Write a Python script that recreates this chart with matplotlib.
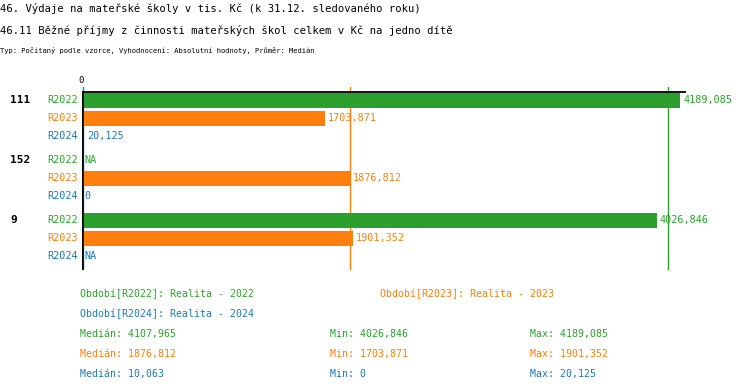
import numpy as np
import matplotlib
matplotlib.use("Agg")
import matplotlib.pyplot as plt

plt.rcParams['font.family'] = ['DejaVu Sans Mono']

groups = ['111', '152', '9']
series = ['R2022', 'R2023', 'R2024']
r2022 = [4189.085, np.nan, 4026.846]
r2023 = [1703.871, 1876.812, 1901.352]
r2024 = [20.125, 0.0, np.nan]
values = [r2022, r2023, r2024]
colors = ['#2ca02c', '#ff7f0e', '#1f77b4']

legend_texts = ['Období[R2022]: Realita - 2022',
                'Období[R2023]: Realita - 2023',
                'Období[R2024]: Realita - 2024']
medians = [4107.965, 1876.812, 10.063]
minimums = [4026.846, 1703.871, 0.0]
maximums = [4189.085, 1901.352, 20.125]

title1 = '46. Výdaje na mateřské školy v tis. Kč (k 31.12. sledovaného roku)'
title2 = '46.11 Běžné příjmy z činnosti mateřských škol celkem v Kč na jedno dítě'
subtitle = 'Typ: Počítaný podle vzorce, Vyhodnocení: Absolutní hodnoty, Průměr: Medián'


def fmt(v):
    return f"{v:.3f}".replace('.', ',').rstrip('0').rstrip(',') if v == 0 else f"{v:.3f}".replace('.', ',')


W, H = 750, 392
fig = plt.figure(figsize=(W / 100, H / 100), dpi=100)


def fx(x):
    return x / W


def fy(y):
    return 1 - y / H


# plot area in pixels
left, right, top, bottom = 81.5, 686, 87, 270
ax = fig.add_axes([fx(left), fy(bottom), fx(right - left), (bottom - top) / H])
ax.set_axis_off()
xmax = np.nanmax(r2022) * 1.01
ax.set_xlim(0, xmax)
ax.set_ylim(bottom - top, 0)

row_h, gap, first = 18, 6, 13
for g, grp in enumerate(groups):
    base = first + g * (3 * row_h + gap)
    ax.annotate(grp, xy=(10, base), xycoords=('figure pixels', 'data'),
                ha='left', va='center', fontsize=8, fontweight='bold')
    for s, name in enumerate(series):
        y = base + s * row_h
        v = values[s][g]
        ax.annotate(name, xy=(0, y), xytext=(-4, 0), textcoords='offset pixels',
                    ha='right', va='center', fontsize=7.3, color=colors[s],
                    annotation_clip=False)
        if np.isnan(v):
            label, xend = 'NA', 0
        else:
            ax.barh(y, v, height=15, color=colors[s], zorder=2)
            label, xend = fmt(v), v
        ax.annotate(label, xy=(xend, y), xytext=(3, 0), textcoords='offset pixels',
                    ha='left', va='center', fontsize=7.3, color=colors[s],
                    annotation_clip=False)

# median lines
for s in range(3):
    ax.plot([medians[s], medians[s]], [0, bottom - top], color=colors[s], lw=1, zorder=1)

# axis lines
ax.plot([0, xmax], [5, 5], color='black', lw=1.3, zorder=4, solid_capstyle='butt')
ax.plot([0, 0], [5, bottom - top], color='black', lw=1.8, zorder=4, solid_capstyle='butt')
ax.annotate('0', xy=(0, 0), xytext=(0, 2), textcoords='offset pixels',
            ha='center', va='bottom', fontsize=6.5, annotation_clip=False)

# titles
fig.text(fx(0), fy(8), title1, ha='left', va='center', fontsize=7.6)
fig.text(fx(0), fy(30), title2, ha='left', va='center', fontsize=7.6)
fig.text(fx(0), fy(51), subtitle, ha='left', va='center', fontsize=5.1)

# legend
fig.text(fx(80), fy(294), legend_texts[0], ha='left', va='center', fontsize=7.1, color=colors[0])
fig.text(fx(380), fy(294), legend_texts[1], ha='left', va='center', fontsize=7.1, color=colors[1])
fig.text(fx(80), fy(314), legend_texts[2], ha='left', va='center', fontsize=7.1, color=colors[2])

# statistics
for s in range(3):
    y = fy(334 + s * 20)
    fig.text(fx(80), y, 'Medián: ' + fmt(medians[s]), ha='left', va='center', fontsize=7.1, color=colors[s])
    fig.text(fx(330), y, 'Min: ' + fmt(minimums[s]), ha='left', va='center', fontsize=7.1, color=colors[s])
    fig.text(fx(530), y, 'Max: ' + fmt(maximums[s]), ha='left', va='center', fontsize=7.1, color=colors[s])

fig.savefig('out.png', dpi=100)
